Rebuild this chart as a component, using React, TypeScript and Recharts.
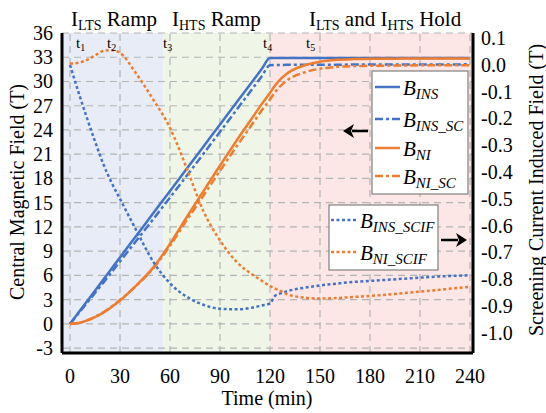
import { LineChart, Line, XAxis, YAxis, ReferenceArea, ReferenceLine } from "recharts";

const FONT = "'Liberation Serif', 'Times New Roman', Times, serif";
const BLUE = "#4472c4";
const ORANGE = "#ed7d31";
const GRID = "#b4b4b4";

// time in minutes
const TIME = [0, 5, 10, 15, 20, 25, 30, 40, 50, 60, 70, 80, 90, 100, 110, 115, 120, 123, 125, 130, 140, 150, 160, 170, 180, 200, 220, 240];

// central magnetic field (T), left axis
const B_INS = [0, 1.37, 2.74, 4.11, 5.48, 6.85, 8.23, 10.97, 13.71, 16.45, 19.19, 21.93, 24.68, 27.42, 30.16, 31.53, 32.9, 32.9, 32.9, 32.9, 32.9, 32.9, 32.9, 32.9, 32.9, 32.9, 32.9, 32.9];
const B_INS_SC = [0, 1.27, 2.55, 3.83, 5.11, 6.41, 7.73, 10.35, 12.98, 15.64, 18.33, 21.04, 23.77, 26.51, 29.26, 30.63, 32.01, 32.04, 32.04, 32.06, 32.07, 32.08, 32.08, 32.09, 32.09, 32.1, 32.11, 32.12];
const B_NI = [0, 0.1, 0.4, 0.85, 1.4, 2.1, 2.9, 4.8, 7.0, 9.9, 13.2, 16.4, 19.6, 22.7, 25.7, 27.2, 28.6, 29.5, 30.0, 30.95, 31.95, 32.45, 32.68, 32.77, 32.8, 32.83, 32.85, 32.85];
const B_NI_SC = [0, 0.11, 0.42, 0.89, 1.45, 2.16, 2.95, 4.77, 6.87, 9.67, 12.82, 15.86, 18.95, 21.97, 24.92, 26.4, 27.78, 28.67, 29.16, 30.1, 31.08, 31.58, 31.81, 31.9, 31.94, 31.98, 32.01, 32.02];

// screening current induced field (T), right axis
const B_INS_SCIF = [0, -0.1, -0.195, -0.285, -0.37, -0.44, -0.5, -0.62, -0.735, -0.815, -0.865, -0.895, -0.91, -0.912, -0.905, -0.898, -0.89, -0.862, -0.856, -0.845, -0.832, -0.823, -0.816, -0.81, -0.806, -0.798, -0.79, -0.785];
const B_NI_SCIF = [0.005, 0.008, 0.018, 0.035, 0.052, 0.055, 0.045, -0.035, -0.13, -0.235, -0.385, -0.545, -0.655, -0.735, -0.785, -0.805, -0.825, -0.835, -0.84, -0.855, -0.868, -0.872, -0.87, -0.866, -0.862, -0.852, -0.84, -0.828];

const PHASES = [
  { x1: -4.8, x2: 56, fill: "#e7ecf7" },
  { x1: 56, x2: 120, fill: "#eff6e7" },
  { x1: 120, x2: 241.8, fill: "#fce6e6" },
];

const X_DOMAIN = [-4.8, 241.8];
const L_DOMAIN = [-3.6, 36];
const R_DOMAIN = [-1.075, 0.119];

const X_TICKS = [0, 30, 60, 90, 120, 150, 180, 210, 240];
const L_TICKS = [-3, 0, 3, 6, 9, 12, 15, 18, 21, 24, 27, 30, 33, 36];
const R_TICKS = [-1.0, -0.9, -0.8, -0.7, -0.6, -0.5, -0.4, -0.3, -0.2, -0.1, 0.0, 0.1];
const X_MINOR = Array.from({ length: 49 }, (_, i) => i * 5);
const L_MINOR = Array.from({ length: 40 }, (_, i) => i - 3);
const R_MINOR = Array.from({ length: 59 }, (_, i) => Math.round((-1.06 + i * 0.02) * 100) / 100);

const isMajorX = (v: number) => v % 30 === 0;
const isMajorL = (v: number) => v % 3 === 0;
const isMajorR = (v: number) => Math.abs(v * 10 - Math.round(v * 10)) < 1e-6;

const BottomLabel = ({ x, y, payload }: any) => (
  <text x={x} y={y + 30} textAnchor="middle" fontSize={20} fontFamily={FONT} fill="#000">
    {payload.value}
  </text>
);
const LeftLabel = ({ x, y, payload }: any) => (
  <text x={x - 9} y={y + 7} textAnchor="end" fontSize={20} fontFamily={FONT} fill="#000">
    {payload.value}
  </text>
);
const RightLabel = ({ x, y, payload }: any) => (
  <text x={x + 8} y={y + 7} textAnchor="start" fontSize={20} fontFamily={FONT} fill="#000">
    {Number(payload.value).toFixed(1)}
  </text>
);

const tickMark = (major: boolean) => ({ len: major ? 8 : 4, w: major ? 2.5 : 1.5 });
const BottomMark = ({ x, y, payload }: any) => {
  const m = tickMark(isMajorX(payload.value));
  return <line x1={x} y1={y} x2={x} y2={y - m.len} stroke="#000" strokeWidth={m.w} />;
};
const TopMark = ({ x, y, payload }: any) => {
  const m = tickMark(isMajorX(payload.value));
  return <line x1={x} y1={y} x2={x} y2={y + m.len} stroke="#000" strokeWidth={m.w} />;
};
const LeftMark = ({ x, y, payload }: any) => {
  const m = tickMark(isMajorL(payload.value));
  return <line x1={x} y1={y} x2={x + m.len} y2={y} stroke="#000" strokeWidth={m.w} />;
};
const RightMark = ({ x, y, payload }: any) => {
  const m = tickMark(isMajorR(payload.value));
  return <line x1={x} y1={y} x2={x - m.len} y2={y} stroke="#000" strokeWidth={m.w} />;
};

const FRAME = { stroke: "#000", strokeWidth: 3 };

const LEGEND_MAIN = [
  { y: 87, color: BLUE, dash: undefined, sub: "INS" },
  { y: 119, color: BLUE, dash: "8 3 3 3", sub: "INS_SC" },
  { y: 148, color: ORANGE, dash: undefined, sub: "NI" },
  { y: 176, color: ORANGE, dash: "8 3 3 3", sub: "NI_SC" },
];
const LEGEND_SCIF = [
  { y: 220, color: BLUE, dash: "3 2.5", sub: "INS_SCIF" },
  { y: 252, color: ORANGE, dash: "3 2.5", sub: "NI_SCIF" },
];

export default function App() {
  const data = TIME.map((t, i) => ({
    t,
    bIns: B_INS[i],
    bInsSc: B_INS_SC[i],
    bNi: B_NI[i],
    bNiSc: B_NI_SC[i],
    bInsScif: B_INS_SCIF[i],
    bNiScif: B_NI_SCIF[i],
  }));

  return (
    <div style={{ position: "absolute", left: 0, top: 0, width: 546, height: 413, background: "#fff" }}>
      <LineChart width={546} height={413} data={data} margin={{ top: 33, right: 0, bottom: 0, left: 0 }}>
        {PHASES.map((p) => (
          <ReferenceArea
            key={p.x1}
            xAxisId="x"
            yAxisId="l"
            x1={p.x1}
            x2={p.x2}
            fill={p.fill}
            fillOpacity={1}
            stroke="none"
            ifOverflow="visible"
          />
        ))}
        {X_TICKS.map((v) => (
          <ReferenceLine key={`gx${v}`} xAxisId="x" yAxisId="l" x={v} stroke={GRID} strokeWidth={1.2} strokeDasharray="7 5" />
        ))}
        {L_TICKS.map((v) => (
          <ReferenceLine key={`gy${v}`} xAxisId="x" yAxisId="l" y={v} stroke={GRID} strokeWidth={1.2} strokeDasharray="7 5" />
        ))}

        <XAxis xAxisId="x" dataKey="t" type="number" domain={X_DOMAIN} ticks={X_TICKS} interval={0}
          allowDataOverflow height={60} tickSize={0} tickMargin={0} tickLine={false} axisLine={FRAME} tick={BottomLabel} />
        <XAxis xAxisId="xb" dataKey="t" type="number" domain={X_DOMAIN} ticks={X_MINOR} interval={0}
          allowDataOverflow mirror height={0} tickSize={0} tickMargin={0} tickLine={false} axisLine={false} tick={BottomMark} />
        <XAxis xAxisId="xt" orientation="top" dataKey="t" type="number" domain={X_DOMAIN} ticks={X_MINOR} interval={0}
          allowDataOverflow height={0} tickSize={0} tickMargin={0} tickLine={false} axisLine={FRAME} tick={TopMark} />

        <YAxis yAxisId="l" type="number" domain={L_DOMAIN} ticks={L_TICKS} interval={0} allowDataOverflow
          width={62} tickSize={0} tickMargin={0} tickLine={false} axisLine={FRAME} tick={LeftLabel} />
        <YAxis yAxisId="lm" type="number" domain={L_DOMAIN} ticks={L_MINOR} interval={0} allowDataOverflow
          mirror width={0} tickSize={0} tickMargin={0} tickLine={false} axisLine={false} tick={LeftMark} />
        <YAxis yAxisId="r" orientation="right" type="number" domain={R_DOMAIN} ticks={R_TICKS} interval={0} allowDataOverflow
          width={73} tickSize={0} tickMargin={0} tickLine={false} axisLine={FRAME} tick={RightLabel} />
        <YAxis yAxisId="rm" orientation="right" type="number" domain={R_DOMAIN} ticks={R_MINOR} interval={0} allowDataOverflow
          mirror width={0} tickSize={0} tickMargin={0} tickLine={false} axisLine={false} tick={RightMark} />

        <Line xAxisId="x" yAxisId="l" type="monotone" dataKey="bIns" stroke={BLUE} strokeWidth={2.5} dot={false} isAnimationActive={false} />
        <Line xAxisId="x" yAxisId="l" type="monotone" dataKey="bInsSc" stroke={BLUE} strokeWidth={2.5} strokeDasharray="8 3 3 3" dot={false} isAnimationActive={false} />
        <Line xAxisId="x" yAxisId="l" type="monotone" dataKey="bNi" stroke={ORANGE} strokeWidth={2.5} dot={false} isAnimationActive={false} />
        <Line xAxisId="x" yAxisId="l" type="monotone" dataKey="bNiSc" stroke={ORANGE} strokeWidth={2.5} strokeDasharray="8 3 3 3" dot={false} isAnimationActive={false} />
        <Line xAxisId="x" yAxisId="r" type="monotone" dataKey="bInsScif" stroke={BLUE} strokeWidth={2.5} strokeDasharray="3 2.5" dot={false} isAnimationActive={false} />
        <Line xAxisId="x" yAxisId="r" type="monotone" dataKey="bNiScif" stroke={ORANGE} strokeWidth={2.5} strokeDasharray="3 2.5" dot={false} isAnimationActive={false} />
      </LineChart>

      <svg width={546} height={413} style={{ position: "absolute", left: 0, top: 0, pointerEvents: "none" }} fontFamily={FONT} fill="#000">
        {/* phase titles */}
        <text x={71} y={26} fontSize={21}>
          I<tspan fontSize={14} dy={4}>LTS</tspan><tspan dy={-4}> Ramp</tspan>
        </text>
        <text x={172} y={26} fontSize={21}>
          I<tspan fontSize={14} dy={4}>HTS</tspan><tspan dy={-4}> Ramp</tspan>
        </text>
        <text x={309} y={26} fontSize={21}>
          I<tspan fontSize={14} dy={4}>LTS</tspan><tspan dy={-4}> and I</tspan>
          <tspan fontSize={14} dy={4}>HTS</tspan><tspan dy={-4}> Hold</tspan>
        </text>

        {/* time markers */}
        {[
          { x: 76, n: "1" },
          { x: 107, n: "2" },
          { x: 163, n: "3" },
          { x: 263, n: "4" },
          { x: 306, n: "5" },
        ].map((m) => (
          <text key={m.n} x={m.x} y={48} fontSize={15}>
            t<tspan fontSize={10} dy={3}>{m.n}</tspan>
          </text>
        ))}

        {/* axis titles */}
        <text transform="translate(24,192) rotate(-90)" textAnchor="middle" fontSize={20}>Central Magnetic Field (T)</text>
        <text transform="translate(543,190) rotate(-90)" textAnchor="middle" fontSize={20}>Screening Current Induced Field (T)</text>
        <text x={267} y={405} textAnchor="middle" fontSize={20}>Time (min)</text>

        {/* legend: magnetic field */}
        <rect x={372} y={71} width={96} height={123} fill="#fff" stroke="#808080" strokeWidth={1.2} />
        {LEGEND_MAIN.map((r) => (
          <g key={r.sub}>
            <line x1={375} y1={r.y} x2={400} y2={r.y} stroke={r.color} strokeWidth={2.5} strokeDasharray={r.dash} />
            <text x={403} y={r.y + 8} fontSize={21} fontStyle="italic">
              B<tspan fontSize={15} dy={4}>{r.sub}</tspan>
            </text>
          </g>
        ))}
        <line x1={352} y1={131} x2={368} y2={131} stroke="#000" strokeWidth={2.5} />
        <polygon points="343,131 354,124 351,131 354,138" fill="#000" />

        {/* legend: screening current induced field */}
        <rect x={329} y={205} width={109} height={65} fill="#fff" stroke="#808080" strokeWidth={1.2} />
        {LEGEND_SCIF.map((r) => (
          <g key={r.sub}>
            <line x1={331} y1={r.y} x2={357} y2={r.y} stroke={r.color} strokeWidth={2.5} strokeDasharray={r.dash} />
            <text x={360} y={r.y + 8} fontSize={21} fontStyle="italic">
              B<tspan fontSize={15} dy={4}>{r.sub}</tspan>
            </text>
          </g>
        ))}
        <line x1={441} y1={240} x2={458} y2={240} stroke="#000" strokeWidth={2.5} />
        <polygon points="467,240 456,233 459,240 456,247" fill="#000" />
      </svg>
    </div>
  );
}
